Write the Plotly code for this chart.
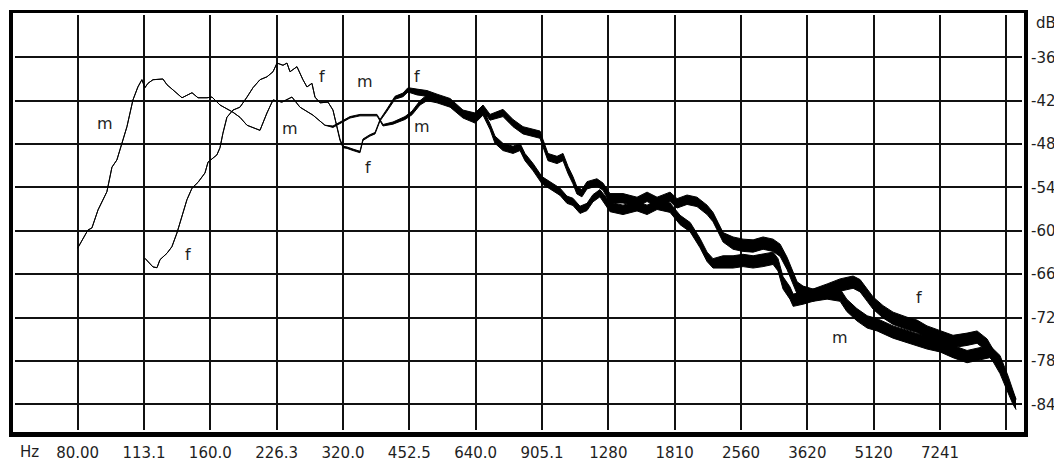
import math
import plotly.graph_objects as go

# ---------------- data ----------------
m_freq = [80, 84.4, 86.2, 89.0, 93.2, 95.7, 98.2, 100.8, 103.5, 106.8, 109.6, 111.9, 113.7, 115.5,
          118.6, 124.9, 127.6, 131.6, 138.0, 145.4, 150.0, 157.2, 161.4, 168.3, 180.1, 186.8, 193.8,
          207.4, 215.1, 222.0, 232.6, 245.1, 255.6, 273.5, 291.2, 303.7, 315.0, 331.9, 349.7, 368.4,
          382.2, 394.4, 415.5, 442.4, 458.9, 478.5, 496.3, 523, 560, 599, 638, 665, 690, 708, 738,
          778, 807, 828, 864, 905, 943.5, 994.6, 1031, 1064, 1104, 1145, 1181, 1225, 1291, 1382,
          1487, 1567, 1651, 1767, 1862, 1963, 2067, 2144, 2212, 2331, 2456, 2588, 2727, 2873, 3027,
          3106, 3189, 3306, 3362, 3541, 3730, 4014, 4296, 4448, 4689, 4949, 5213, 5666, 6191, 6766,
          7241, 7750, 8339, 8787, 9384, 9906, 10334, 10768]
m_db = [-62.4, -59.9, -59.6, -57.1, -54.6, -51.2, -50.2, -47.9, -45.6, -41.9, -40.1, -39.1, -40.2, -39.6,
        -39.1, -39.0, -39.8, -40.5, -41.6, -40.9, -41.6, -41.6, -41.5, -42.6, -43.6, -44.3, -45.4,
        -46.1, -43.7, -41.9, -42.2, -41.5, -42.9, -44.0, -45.4, -45.6, -45.1, -44.3, -44.0, -44.0,
        -44.0, -45.4, -45.1, -44.4, -43.7, -42.3, -41.6, -41.9, -42.5, -44.0, -44.7, -43.6, -45.6, -47.4, -48.4,
        -48.8, -48.4, -49.8, -51.2, -53.0, -53.7, -54.6, -55.7, -56.0, -57.1, -56.7, -55.5, -54.8, -56.7, -57.1,
        -56.6, -57.1, -56.4, -56.8, -58.5, -59.5, -61.7, -63.6, -64.5, -64.3, -64.3, -64.1, -64.3, -64.1, -63.8,
        -64.7, -67.2, -68.6, -69.6, -69.3, -68.9, -68.6, -68.9, -70.3, -71.6, -72.6, -73.0, -74.0, -74.8, -75.5,
        -75.9, -76.7, -77.4, -77.1, -76.7, -78.1, -80.9, -84.0]
# half thickness of the noisy trace band (dB)
m_spread = [0, 0, 0, 0, 0, 0, 0, 0, 0, 0, 0, 0, 0, 0,
            0, 0, 0, 0, 0, 0, 0, 0, 0, 0, 0, 0, 0,
            0, 0, 0, 0, 0, 0, 0, 0, 0.1, 0.1, 0.1, 0.1, 0.1,
            0.1, 0.1, 0.15, 0.2, 0.25, 0.3, 0.4, 0.4, 0.4, 0.4, 0.4, 0.4, 0.4, 0.5, 0.5,
            0.5, 0.5, 0.5, 0.5, 0.5, 0.5, 0.5, 0.5, 0.5, 0.5, 0.5, 0.5, 0.5, 0.65, 0.65,
            0.65, 0.65, 0.65, 0.65, 0.65, 0.65, 0.65, 0.65, 0.65, 0.85, 0.85, 0.85, 0.85, 0.85, 0.85,
            0.85, 0.85, 0.85, 0.85, 0.85, 0.85, 0.85, 0.85, 0.85, 0.85, 0.85, 0.85, 0.85, 0.85, 0.85,
            0.85, 0.85, 0.85, 0.85, 0.85, 0.85, 0.8, 0.7]

f_freq = [113.7, 118.6, 121.1, 123.0, 127.6, 130.9, 134.4, 138.0, 141.6, 145.4, 150.0, 155.6, 158.1,
          165.6, 168.3, 170.9, 174.5, 180.1, 186.8, 193.8, 200.0, 207.4, 215.1, 222.0, 226.7, 233.9,
          238.8, 242.6, 251.6, 259.6, 265.1, 272.1, 276.4, 283.8, 295.9, 303.7, 310.1, 315.0, 320,
          326.7, 337.2, 349.7, 355.2, 368.4, 378.3, 388.3, 402.7, 419.9, 437.8, 449.4, 471, 496.3,
          523, 560, 599, 638, 665, 690, 738.3, 778, 819.7, 863.7, 895.8, 910, 933.8, 979, 1010,
          1037, 1064, 1086, 1115, 1145, 1206, 1245, 1291, 1382, 1487, 1567, 1651, 1767, 1833,
          1931, 2034, 2144, 2212, 2271, 2331, 2456, 2588, 2727, 2873, 3027, 3141, 3256, 3362,
          3432, 3541, 3730, 4014, 4296, 4598, 4770, 4949, 5106, 5378, 5666, 6096, 6423, 6766,
          7241, 7750, 8339, 8787, 9258, 9552, 9906, 10273, 10600, 10768]
f_db = [-63.8, -65.0, -65.1, -64.0, -63.1, -62.2, -60.3, -58.1, -55.7, -54.1, -53.3, -52.0, -50.5,
        -49.5, -48.5, -46.5, -44.3, -43.3, -42.9, -41.5, -40.2, -39.1, -38.7, -38.0, -36.8, -37.1,
        -36.8, -38.0, -37.3, -39.1, -40.1, -39.6, -41.5, -42.3, -42.2, -43.3, -45.6, -47.4, -48.4,
        -48.5, -48.8, -49.1, -47.4, -46.8, -46.5, -44.7, -43.3, -41.6, -41.2, -40.5, -40.8, -41.0,
        -41.5, -42.1, -43.7, -44.1, -43.0, -44.3, -43.7, -45.1, -46.1, -46.5, -46.7, -47.9, -49.8, -50.2, -49.8,
        -51.6, -53.0, -54.4, -54.8, -53.7, -53.3, -53.9, -55.5, -55.5, -56.0, -55.3, -56.0, -55.3, -56.2,
        -55.7, -56.0, -57.1, -58.1, -59.5, -60.9, -61.7, -62.0, -62.1, -61.7, -62.0, -62.7, -64.5, -66.5,
        -67.9, -68.5, -68.9, -68.2, -67.5, -67.1, -67.6, -68.9, -70.0, -71.2, -72.1, -72.8, -73.2, -74.0,
        -74.7, -75.3, -75.0, -74.7, -75.8, -77.2, -78.9, -81.2, -83.2, -84.0]
f_spread = [0, 0, 0, 0, 0, 0, 0, 0, 0, 0, 0, 0, 0,
            0, 0, 0, 0, 0, 0, 0, 0, 0, 0, 0, 0, 0,
            0, 0, 0, 0, 0, 0, 0, 0, 0, 0, 0.1, 0.1, 0.1,
            0.1, 0.1, 0.1, 0.1, 0.1, 0.1, 0.1, 0.15, 0.2, 0.25, 0.3, 0.4, 0.4,
            0.4, 0.4, 0.4, 0.4, 0.4, 0.4, 0.5, 0.5, 0.5, 0.5, 0.5, 0.5, 0.5, 0.5, 0.5,
            0.5, 0.5, 0.5, 0.5, 0.5, 0.5, 0.5, 0.65, 0.65, 0.65, 0.65, 0.65, 0.65, 0.65,
            0.65, 0.65, 0.65, 0.65, 0.65, 0.65, 0.85, 0.85, 0.85, 0.85, 0.85, 0.85, 0.85, 0.85,
            0.85, 0.85, 0.85, 0.85, 0.85, 0.85, 0.85, 0.85, 0.85, 0.85, 0.85, 0.85, 0.85, 0.85,
            0.85, 0.85, 0.85, 0.85, 0.85, 0.85, 0.85, 0.85, 0.8, 0.7]

x_tick_vals = [80, 113.137, 160, 226.274, 320, 452.548, 640, 905.097, 1280, 1810.19, 2560,
               3620.39, 5120, 7240.77, 10240]
x_tick_text = ["80.00", "113.1", "160.0", "226.3", "320.0", "452.5", "640.0", "905.1", "1280",
               "1810", "2560", "3620", "5120", "7241", ""]
y_tick_vals = [-36, -42, -48, -54, -60, -66, -72, -78, -84]
y_tick_text = ["-36", "-42", "-48", "-54", "-60", "-66", "-72", "-78", "-84"]
x_range_hz = [57.67, 11112]
y_range_db = [-87.55, -30.15]

label_text = ["m", "f", "m", "f", "m", "f", "f", "m", "m", "f"]
label_freq = [92.3, 142.4, 242.6, 286.7, 359, 364.6, 471, 483.5, 4296, 6490]
label_db = [-45.1, -63.3, -45.8, -38.7, -39.4, -51.2, -38.6, -45.6, -74.8, -69.2]

# ---------------- layout geometry (pixels of the 1062x461 window) ----------------
OFF = 8                      # the page body keeps a default 8px margin
W, H = 1062 - OFF, 461 - OFF
PL, PR, PT, PB = 15, 1022, 15, 430   # grid area in window pixels
PW, PH = PR - PL, PB - PT
FONT = "DejaVu Sans"
TXT = "#1e1e1e"
FS = 15


def px(x):
    return (x - PL) / PW


def py(y):
    return (PB - y) / PH


fig = go.Figure()
for fr, db, sp in [(m_freq, m_db, m_spread), (f_freq, f_db, f_spread)]:
    hi = [d + s for d, s in zip(db, sp)]
    lo = [d - s for d, s in zip(db, sp)]
    fig.add_trace(go.Scatter(x=fr, y=hi, mode="lines", line=dict(color="black", width=1),
                             hoverinfo="skip", showlegend=False))
    fig.add_trace(go.Scatter(x=fr, y=lo, mode="lines", line=dict(color="black", width=1),
                             fill="tonexty", fillcolor="black", hoverinfo="skip", showlegend=False))

annotations = []
for t, fr, db in zip(label_text, label_freq, label_db):
    annotations.append(dict(x=math.log10(fr), y=db, xref="x", yref="y", text=t, showarrow=False,
                            xanchor="center", yanchor="middle",
                            font=dict(family=FONT, size=FS + 1, color=TXT)))
annotations.append(dict(x=px(29), y=py(452), xref="paper", yref="paper", text="Hz", showarrow=False,
                        xanchor="center", yanchor="middle", font=dict(family=FONT, size=FS, color=TXT)))
annotations.append(dict(x=px(1034), y=py(23), xref="paper", yref="paper", text="dB", showarrow=False,
                        xanchor="left", yanchor="middle", font=dict(family=FONT, size=FS, color=TXT)))

# frame (thick black border drawn outside the grid area)
shapes = []
for (x0, x1, y0, y1) in [(9, 1028, 10, 13),     # top
                         (9, 13, 10, 437),      # left
                         (1024, 1028, 10, 437), # right
                         (9, 1028, 432, 437)]:  # bottom
    shapes.append(dict(type="rect", xref="paper", yref="paper", x0=px(x0), x1=px(x1),
                       y0=py(y1), y1=py(y0), fillcolor="black", line=dict(width=0), layer="above"))

fig.update_layout(
    width=W, height=H, autosize=False,
    margin=dict(l=PL - OFF, r=1062 - PR, t=PT - OFF, b=461 - PB, pad=0),
    paper_bgcolor="white", plot_bgcolor="white",
    showlegend=False,
    annotations=annotations,
    shapes=shapes,
    xaxis=dict(type="log", range=[math.log10(x_range_hz[0]), math.log10(x_range_hz[1])],
               tickmode="array", tickvals=x_tick_vals, ticktext=x_tick_text,
               showgrid=True, gridcolor="#111111", gridwidth=1.6, zeroline=False, showline=False,
               ticks="", ticklabelstandoff=12, tickangle=0, automargin=False,
               tickfont=dict(family=FONT, size=FS, color=TXT), fixedrange=True),
    yaxis=dict(range=y_range_db, side="right",
               tickmode="array", tickvals=y_tick_vals, ticktext=y_tick_text,
               showgrid=True, gridcolor="#111111", gridwidth=1.6, zeroline=False, showline=False,
               ticks="", ticklabelstandoff=8, automargin=False,
               tickfont=dict(family=FONT, size=FS, color=TXT), fixedrange=True),
)

fig.write_html("out.html")
